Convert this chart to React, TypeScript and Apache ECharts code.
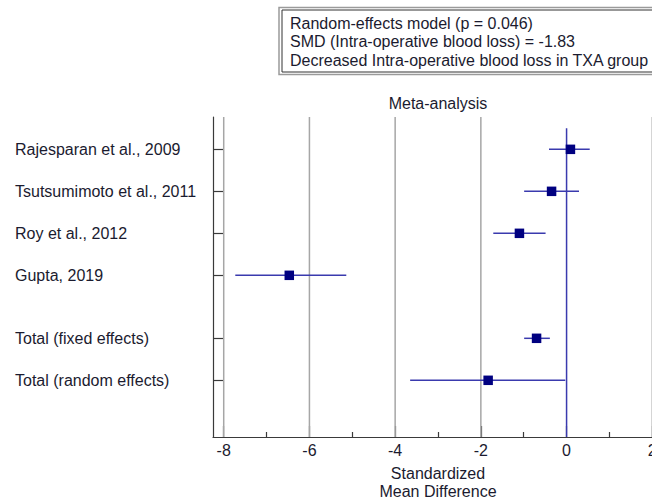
import React, { useEffect, useRef } from "react";
import * as echarts from "echarts";

const studies = [
  "Rajesparan et al., 2009",
  "Tsutsumimoto et al., 2011",
  "Roy et al., 2012",
  "Gupta, 2019",
  "Total (fixed effects)",
  "Total (random effects)",
];
const rowPos = [0, 1, 2, 3, 4.5, 5.5];
const smd = [0.09, -0.35, -1.1, -6.47, -0.7, -1.83];
const lower = [-0.41, -0.99, -1.71, -7.73, -0.99, -3.65];
const upper = [0.54, 0.29, -0.49, -5.14, -0.39, -0.03];
const majorTicks = [-8, -6, -4, -2, 0, 2];
const minorTicks = [-7, -5, -3, -1, 1];
const gridValues = [-8, -6, -4, -2, 2];
const infoLines = [
  "Random-effects model (p = 0.046)",
  "SMD (Intra-operative blood loss) = -1.83",
  "Decreased Intra-operative blood loss in TXA group",
];

const FONT = "'Liberation Sans', Arial, sans-serif";
const TEXT = "#1b1b2f";
const X_MIN = -8.25;
const X_MAX = 2.25;
const Y_MIN = -0.77;
const Y_MAX = 6.85;

export default function App() {
  const ref = useRef<HTMLDivElement>(null);
  useEffect(() => {
    document.body.style.margin = "0";
    const chart = echarts.init(ref.current!, undefined, { renderer: "svg" });
    const forestData = smd.map((v, i) => [v, rowPos[i], lower[i], upper[i]]);
    chart.setOption({
      animation: false,
      grid: {
        left: 213,
        top: 117,
        width: 450,
        height: 320,
        containLabel: false,
        outerBoundsMode: "none",
      },
      xAxis: [
        {
          type: "value",
          min: X_MIN,
          max: X_MAX,
          position: "bottom",
          axisLine: { show: true, onZero: false, lineStyle: { color: "#3a3a3a", width: 1.2 } },
          axisTick: {
            show: true,
            inside: true,
            length: 11,
            customValues: majorTicks,
            lineStyle: { color: "#3a3a3a", width: 1.2 },
          },
          axisLabel: {
            show: true,
            customValues: majorTicks,
            color: TEXT,
            fontFamily: FONT,
            fontSize: 16,
            margin: 5,
          },
          splitLine: { show: false },
          name: "Standardized\nMean Difference",
          nameLocation: "middle",
          nameGap: 27,
          nameTextStyle: {
            color: TEXT,
            fontFamily: FONT,
            fontSize: 16,
            lineHeight: 18,
            verticalAlign: "top",
          },
        },
        {
          type: "value",
          min: X_MIN,
          max: X_MAX,
          position: "bottom",
          axisLine: { show: false, onZero: false },
          axisTick: {
            show: true,
            inside: true,
            length: 5,
            customValues: minorTicks,
            lineStyle: { color: "#3a3a3a", width: 1.2 },
          },
          axisLabel: { show: false },
          splitLine: { show: false },
        },
      ],
      yAxis: {
        type: "value",
        inverse: true,
        min: Y_MIN,
        max: Y_MAX,
        axisLine: { show: true, onZero: false, lineStyle: { color: "#3a3a3a", width: 1.2 } },
        axisTick: {
          show: true,
          inside: true,
          length: 11,
          customValues: rowPos,
          lineStyle: { color: "#3a3a3a", width: 1.2 },
        },
        axisLabel: {
          show: true,
          customValues: rowPos,
          formatter: (v: number) => {
            const i = rowPos.indexOf(v);
            return i >= 0 ? studies[i] : "";
          },
          align: "left",
          margin: 198,
          color: TEXT,
          fontFamily: FONT,
          fontSize: 16,
        },
        splitLine: { show: false },
      },
      graphic: [
        {
          type: "rect",
          shape: { x: 279, y: 7.5, width: 390, height: 67 },
          style: { fill: "none", stroke: "#9a9a9a", lineWidth: 1.5 },
        },
        {
          type: "rect",
          shape: { x: 282, y: 10, width: 385, height: 62 },
          style: { fill: "#fff", stroke: "#333", lineWidth: 1 },
        },
        ...infoLines.map((t, i) => ({
          type: "text",
          x: 290,
          y: 23.5 + i * 18.3,
          style: {
            text: t,
            fill: TEXT,
            font: `16px ${FONT}`,
            textVerticalAlign: "middle",
            textAlign: "left",
          },
        })),
        {
          type: "text",
          x: 438,
          y: 103.5,
          style: {
            text: "Meta-analysis",
            fill: TEXT,
            font: `16px ${FONT}`,
            textAlign: "center",
            textVerticalAlign: "middle",
          },
        },
      ],
      series: [
        {
          type: "custom",
          name: "grid",
          silent: true,
          z: 1,
          data: gridValues.map((v) => [v]),
          renderItem: (params: any, api: any) => {
            const x = api.value(0);
            const p1 = api.coord([x, Y_MIN]);
            const p2 = api.coord([x, Y_MAX]);
            return {
              type: "line",
              shape: { x1: p1[0], y1: p1[1], x2: p2[0], y2: p2[1] },
              style: { stroke: "#a6a6a6", lineWidth: 1.5 },
            };
          },
        },
        {
          type: "custom",
          name: "null",
          silent: true,
          z: 2,
          data: [[0]],
          renderItem: (params: any, api: any) => {
            const x = api.value(0);
            const p1 = api.coord([x, -0.5]);
            const p2 = api.coord([x, Y_MAX]);
            return {
              type: "line",
              shape: { x1: p1[0], y1: p1[1], x2: p2[0], y2: p2[1] },
              style: { stroke: "#3a3aae", lineWidth: 1.5 },
            };
          },
        },
        {
          type: "custom",
          name: "forest",
          z: 3,
          data: forestData,
          renderItem: (params: any, api: any) => {
            const c = api.coord([api.value(0), api.value(1)]);
            const lo = api.coord([api.value(2), api.value(1)]);
            const hi = api.coord([api.value(3), api.value(1)]);
            const s = 9.5;
            return {
              type: "group",
              children: [
                {
                  type: "line",
                  shape: { x1: lo[0], y1: lo[1], x2: hi[0], y2: hi[1] },
                  style: { stroke: "#3a3aae", lineWidth: 1.5 },
                },
                {
                  type: "rect",
                  shape: { x: c[0] - s / 2, y: c[1] - s / 2, width: s, height: s },
                  style: { fill: "#000080" },
                },
              ],
            };
          },
        },
      ],
    });
    return () => chart.dispose();
  }, []);
  return (
    <div
      ref={ref}
      style={{ position: "fixed", left: 0, top: 0, width: 652, height: 497, background: "#fff" }}
    />
  );
}
